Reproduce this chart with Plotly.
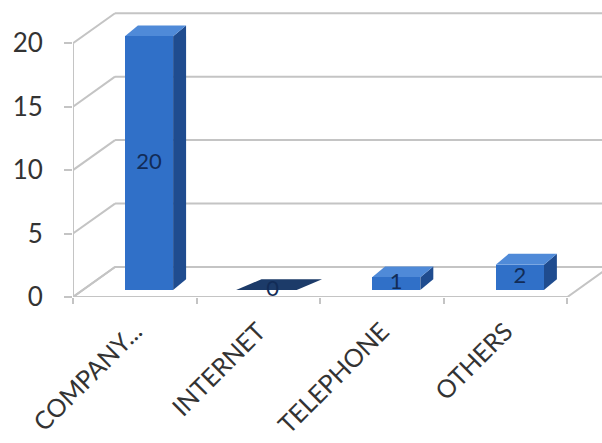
import plotly.graph_objects as go

categories = ["COMPANY...", "INTERNET", "TELEPHONE", "OTHERS"]
values = [20, 0, 1, 2]
y_ticks = [0, 5, 10, 15, 20]

# style / geometry constants (3D illusion)
BAR_OFF = -0.08      # front face left edge relative to category centre
BAR_W = 0.39         # front face width
DDX, DDY = 0.105, 0.85   # bar depth offset (x units, y units)
WDX, WDY = 0.34, 2.36    # wall depth offset
X0 = -0.5
X1 = len(categories) - 0.5
XR = [X0, 3.78]
YR = [0, 23.4]
BASE = 0.55          # bars stand on the middle of the floor

FRONT = "#3070c8"
SIDE = "#1f4c8f"
TOP = "#4f8ad8"
ZERO = "#1c3b69"
GRID = "#c4c4c4"
TXT = "#333333"

xs = list(range(len(categories)))

fig = go.Figure()

shapes = []
# floor
shapes.append(dict(type="path", xref="x", yref="y",
                   path=f"M{X0},0 L{X1},0 L{X1+WDX},{WDY} L{X0+WDX},{WDY} Z",
                   fillcolor="white", line=dict(color=GRID, width=2), layer="below"))
# back wall gridlines + diagonal connectors
for v in y_ticks:
    shapes.append(dict(type="line", xref="x", yref="y", x0=X0 + WDX, x1=XR[1] + 1,
                       y0=v + WDY, y1=v + WDY, line=dict(color=GRID, width=2), layer="below"))
    shapes.append(dict(type="line", xref="x", yref="y", x0=X0, x1=X0 + WDX,
                       y0=v, y1=v + WDY, line=dict(color=GRID, width=2), layer="below"))
# front y axis line
shapes.append(dict(type="line", xref="x", yref="y", x0=X0, x1=X0, y0=0, y1=y_ticks[-1],
                   line=dict(color=GRID, width=2), layer="below"))

# bar side & top faces
for x, v in zip(xs, values):
    xl = x + BAR_OFF
    xr = xl + BAR_W
    if v > 0:
        shapes.append(dict(type="path", xref="x", yref="y2",
                           path=f"M{xr},0 L{xr},{v} L{xr+DDX},{v+DDY} L{xr+DDX},{DDY} Z",
                           fillcolor=SIDE, line=dict(width=0), layer="below"))
        shapes.append(dict(type="path", xref="x", yref="y2",
                           path=f"M{xl},{v} L{xr},{v} L{xr+DDX},{v+DDY} L{xl+DDX},{v+DDY} Z",
                           fillcolor=TOP, line=dict(width=0), layer="below"))
    else:
        shapes.append(dict(type="path", xref="x", yref="y2",
                           path=f"M{xl-0.1},{v} L{xr},{v} L{xr+DDX+0.1},{v+DDY} L{xl+DDX},{v+DDY} Z",
                           fillcolor=ZERO, line=dict(width=0), layer="below"))

fig.add_trace(go.Bar(x=xs, y=values, yaxis="y2", offset=BAR_OFF, width=BAR_W,
                     marker=dict(color=FRONT, line=dict(width=0)),
                     hoverinfo="skip", showlegend=False))

fig.add_trace(go.Scatter(x=[x + BAR_OFF + BAR_W / 2 for x in xs], y=[v / 2 for v in values],
                         yaxis="y2", mode="text", text=[str(v) for v in values],
                         textfont=dict(family="Lato", size=22, color="#122c57"),
                         hoverinfo="skip", showlegend=False))

fig.update_layout(
    width=602, height=443,
    margin=dict(l=73, r=0, t=0, b=443 - 297),
    paper_bgcolor="white", plot_bgcolor="white",
    shapes=shapes,
    bargap=0,
    xaxis=dict(range=XR, tickmode="array", tickvals=xs, ticktext=categories,
               tickangle=-45, ticklen=0, showgrid=False, zeroline=False, showline=False,
               tickfont=dict(family="Lato", size=25, color=TXT), ticklabelshift=0,
               ticklabelstandoff=14,
               minor=dict(tickmode="array", tickvals=[x - 0.5 for x in xs] + [X1],
                          ticks="outside", ticklen=6, tickcolor=GRID, tickwidth=2)),
    yaxis=dict(range=YR, tickmode="array", tickvals=y_ticks, ticks="outside", ticklen=8,
               tickcolor=GRID, tickwidth=2, showgrid=False, zeroline=False, showline=False,
               tickfont=dict(family="Lato", size=26, color=TXT), ticklabelstandoff=16),
    yaxis2=dict(range=[YR[0] - BASE, YR[1] - BASE], overlaying="y", visible=False),
)

fig.write_html("out.html", config={"displayModeBar": False},
               post_script="document.body.style.margin='0px';")
